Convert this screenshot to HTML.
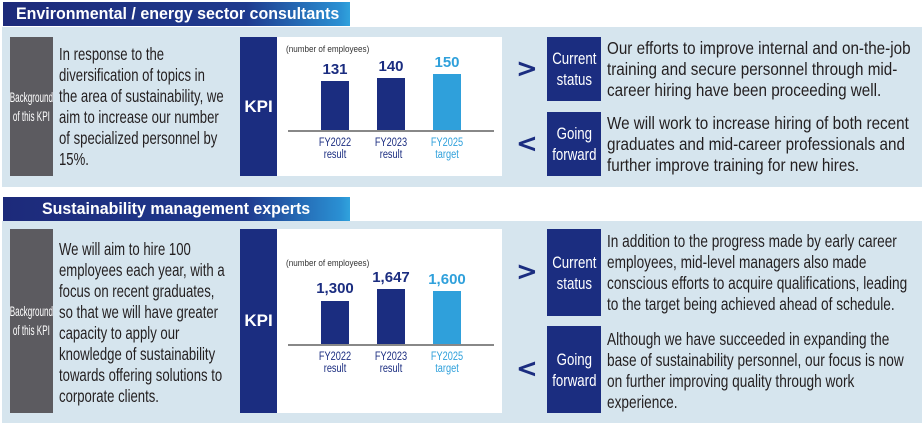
<!DOCTYPE html>
<html><head><meta charset="utf-8"><style>
*{margin:0;padding:0;box-sizing:border-box}
body{width:924px;height:427px;background:#fff;position:relative;overflow:hidden;font-family:"Liberation Sans",sans-serif}
.a{position:absolute}
.title{background:linear-gradient(90deg,#1d2a7a 0%,#1f3a8e 70%,#2a8fd2 97%,#30a2dd 100%);color:#fff;font-weight:bold;font-size:17px;line-height:24px;white-space:nowrap;overflow:hidden}
.title span{display:inline-block;transform:scaleX(0.94);transform-origin:left center}
.panel{background:#d6e5ee}
.gray{background:#5c5b60;color:#fff;font-size:14px;line-height:19px;text-align:center;display:flex;align-items:center;justify-content:center;white-space:nowrap}
.gray span{display:inline-block;transform:scaleX(0.58);transform-origin:center}
.txt{font-size:17.5px;line-height:21px;color:#231f20;white-space:nowrap;transform-origin:left top}
.kpi{background:#1b2d80;color:#fff;font-weight:bold;font-size:17px;display:flex;align-items:center;justify-content:center}
.white{background:#fff}
.box{background:#1b2d80;color:#fff;font-size:17px;line-height:21px;text-align:center;display:flex;align-items:center;justify-content:center;white-space:nowrap}
.box span{display:inline-block;transform:scaleX(0.78);transform-origin:center}
.chev{color:#1b2d80;font-size:26px;font-family:"DejaVu Sans",sans-serif;line-height:26px;font-weight:bold}
.num{font-weight:bold;font-size:15px;text-align:center;width:70px;color:#1b2d80}
.lab{font-size:11.5px;line-height:12px;text-align:center;width:60px;color:#1b2d80;transform:scaleX(0.8)}
.small{font-size:9px;color:#333;white-space:nowrap;transform:scaleX(0.9);transform-origin:left top}
</style></head><body>

<!-- Section 1 -->
<div class="a title" style="left:3px;top:2px;width:347px;height:24px;padding-left:13px"><span>Environmental / energy sector consultants</span></div>
<div class="a panel" style="left:2px;top:27px;width:920px;height:160px"></div>
<div class="a gray" style="left:10px;top:37px;width:43px;height:139px"><span>Background<br>of this KPI</span></div>
<div class="a txt" style="left:59px;top:44px;transform:scaleX(0.75)">In response to the<br>diversification of topics in<br>the area of sustainability, we<br>aim to increase our number<br>of specialized personnel by<br>15%.</div>
<div class="a white" style="left:240px;top:37px;width:262px;height:139px"></div>
<div class="a kpi" style="left:240px;top:37px;width:37px;height:139px">KPI</div>
<div class="a small" style="left:286px;top:44px">(number of employees)</div>
<div class="a" style="left:288px;top:130px;width:206px;height:2px;background:#888"></div>
<div class="a" style="left:321px;top:81px;width:28px;height:49px;background:#1b2d80"></div>
<div class="a" style="left:377px;top:78px;width:28px;height:52px;background:#1b2d80"></div>
<div class="a" style="left:433px;top:74px;width:28px;height:56px;background:#2fa0db"></div>
<div class="a num" style="left:300px;top:61px">131</div>
<div class="a num" style="left:356px;top:58px">140</div>
<div class="a num" style="left:412px;top:54px;color:#2fa0db">150</div>
<div class="a lab" style="left:305px;top:137px">FY2022<br>result</div>
<div class="a lab" style="left:361px;top:137px">FY2023<br>result</div>
<div class="a lab" style="left:417px;top:137px;color:#2fa0db">FY2025<br>target</div>
<div class="a chev" style="left:516px;top:56px">&gt;</div>
<div class="a chev" style="left:516px;top:131px">&lt;</div>
<div class="a box" style="left:547px;top:37px;width:54px;height:64px"><span>Current<br>status</span></div>
<div class="a box" style="left:547px;top:112px;width:54px;height:64px"><span>Going<br>forward</span></div>
<div class="a txt" style="left:607px;top:38px;transform:scaleX(0.87)">Our efforts to improve internal and on-the-job<br>training and secure personnel through mid-<br>career hiring have been proceeding well.</div>
<div class="a txt" style="left:607px;top:113px;transform:scaleX(0.87)">We will work to increase hiring of both recent<br>graduates and mid-career professionals and<br>further improve training for new hires.</div>

<!-- Section 2 -->
<div class="a title" style="left:3px;top:197px;width:347px;height:24px;padding-left:39px"><span>Sustainability management experts</span></div>
<div class="a panel" style="left:2px;top:221px;width:920px;height:202px"></div>
<div class="a gray" style="left:10px;top:229px;width:43px;height:184px"><span>Background<br>of this KPI</span></div>
<div class="a txt" style="left:59px;top:239px;transform:scaleX(0.75)">We will aim to hire 100<br>employees each year, with a<br>focus on recent graduates,<br>so that we will have greater<br>capacity to apply our<br>knowledge of sustainability<br>towards offering solutions to<br>corporate clients.</div>
<div class="a white" style="left:240px;top:229px;width:262px;height:184px"></div>
<div class="a kpi" style="left:240px;top:229px;width:37px;height:184px">KPI</div>
<div class="a small" style="left:286px;top:258px">(number of employees)</div>
<div class="a" style="left:288px;top:344px;width:206px;height:2px;background:#888"></div>
<div class="a" style="left:321px;top:301px;width:28px;height:43px;background:#1b2d80"></div>
<div class="a" style="left:377px;top:289px;width:28px;height:55px;background:#1b2d80"></div>
<div class="a" style="left:433px;top:291px;width:28px;height:53px;background:#2fa0db"></div>
<div class="a num" style="left:300px;top:280px">1,300</div>
<div class="a num" style="left:356px;top:269px">1,647</div>
<div class="a num" style="left:412px;top:271px;color:#2fa0db">1,600</div>
<div class="a lab" style="left:305px;top:351px">FY2022<br>result</div>
<div class="a lab" style="left:361px;top:351px">FY2023<br>result</div>
<div class="a lab" style="left:417px;top:351px;color:#2fa0db">FY2025<br>target</div>
<div class="a chev" style="left:516px;top:259px">&gt;</div>
<div class="a chev" style="left:516px;top:356px">&lt;</div>
<div class="a box" style="left:547px;top:229px;width:54px;height:87px"><span>Current<br>status</span></div>
<div class="a box" style="left:547px;top:326px;width:54px;height:87px"><span>Going<br>forward</span></div>
<div class="a txt" style="left:607px;top:231px;transform:scaleX(0.78)">In addition to the progress made by early career<br>employees, mid-level managers also made<br>conscious efforts to acquire qualifications, leading<br>to the target being achieved ahead of schedule.</div>
<div class="a txt" style="left:607px;top:329px;transform:scaleX(0.78)">Although we have succeeded in expanding the<br>base of sustainability personnel, our focus is now<br>on further improving quality through work<br>experience.</div>
</body></html>
